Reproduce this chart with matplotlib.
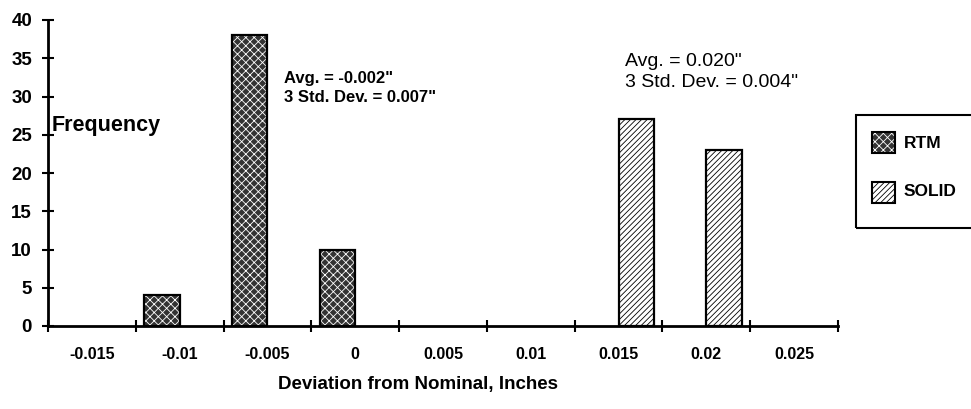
import numpy as np
import matplotlib
matplotlib.use('Agg')
import matplotlib.pyplot as plt
from matplotlib.patches import Rectangle

plt.rcParams['font.family'] = ['Liberation Sans', 'DejaVu Sans']
plt.rcParams['font.weight'] = 'bold'
plt.rcParams['hatch.linewidth'] = 0.6

# data
categories = ['-0.015', '-0.01', '-0.005', '0', '0.005', '0.01', '0.015', '0.02', '0.025']
rtm = [0, 4, 38, 10, 0, 0, 0, 0, 0]
solid = [0, 0, 0, 0, 0, 0, 27, 23, 0]
yticks = [0, 5, 10, 15, 20, 25, 30, 35, 40]

fig = plt.figure(figsize=(9.71, 4.09), dpi=100)
ax = fig.add_axes([48/971, 1-326/409, 790/971, 306/409])

x = np.arange(len(categories))
w = 0.405
RTM_FACE = '#333333'
# RTM: dark stipple, drawn as fill+hatch then black outline
rtm_x = [xi for xi, v in zip(x, rtm) if v > 0]
rtm_v = [v for v in rtm if v > 0]
sol_x = [xi for xi, v in zip(x, solid) if v > 0]
sol_v = [v for v in solid if v > 0]
ax.bar(np.array(rtm_x) - w/2, rtm_v, w, color=RTM_FACE, edgecolor='white',
       hatch='xxxx', linewidth=0)
ax.bar(np.array(rtm_x) - w/2, rtm_v, w, fill=False, edgecolor='black', linewidth=1.6)
ax.bar(np.array(sol_x) + w/2, sol_v, w, color='white', edgecolor='black',
       hatch='//////', linewidth=1.6)

ax.set_xlim(-0.5, len(categories) - 0.5)
ax.set_ylim(0, 40)
ax.set_yticks(yticks)
ax.set_yticklabels([str(t) for t in yticks], fontsize=13.5)
ax.set_xticks(x)
ax.set_xticklabels(categories, fontsize=11.5)
ax.tick_params(axis='x', which='major', length=0, pad=15)
ax.set_xticks(np.arange(-0.5, len(categories)), minor=True)
ax.tick_params(axis='x', which='minor', direction='inout', length=9, width=1.5)
ax.tick_params(axis='y', direction='inout', length=9, width=1.5, pad=7)
for s in ['top', 'right']:
    ax.spines[s].set_visible(False)
for s in ['left', 'bottom']:
    ax.spines[s].set_linewidth(2)
ax.patch.set_alpha(0)

fig.text(418/971, 1-385/409, 'Deviation from Nominal, Inches', fontsize=13.5,
         fontweight='bold', ha='center', va='center')

fig.text(52/971, 1-126/409, 'Frequency', fontsize=15.5, fontweight='bold', va='center')
fig.text(284/971, 1-88/409, 'Avg. = -0.002"\n3 Std. Dev. = 0.007"', fontsize=12,
         fontweight='bold', va='center', linespacing=1.4)
fig.text(625/971, 1-72/409, 'Avg. = 0.020"\n3 Std. Dev. = 0.004"', fontsize=14,
         fontweight='normal', va='center', linespacing=1.35)

# legend box (extends past right edge)
fig.patches.append(Rectangle((856/971, 1-228/409), 130/971, 113/409,
                             transform=fig.transFigure, fill=False,
                             edgecolor='black', linewidth=1.5))
fig.patches.append(Rectangle((872/971, 1-153/409), 23/971, 21/409,
                             transform=fig.transFigure, facecolor=RTM_FACE,
                             edgecolor='white', hatch='xxxx', linewidth=0))
fig.patches.append(Rectangle((872/971, 1-153/409), 23/971, 21/409,
                             transform=fig.transFigure, fill=False,
                             edgecolor='black', linewidth=1.5))
fig.patches.append(Rectangle((872/971, 1-203/409), 23/971, 21/409,
                             transform=fig.transFigure, facecolor='white',
                             edgecolor='black', hatch='//////', linewidth=1.5))
fig.text(904/971, 1-143/409, 'RTM', fontsize=12.5, fontweight='bold', va='center')
fig.text(904/971, 1-192/409, 'SOLID', fontsize=12.5, fontweight='bold', va='center')

fig.savefig('out.png', dpi=100)
